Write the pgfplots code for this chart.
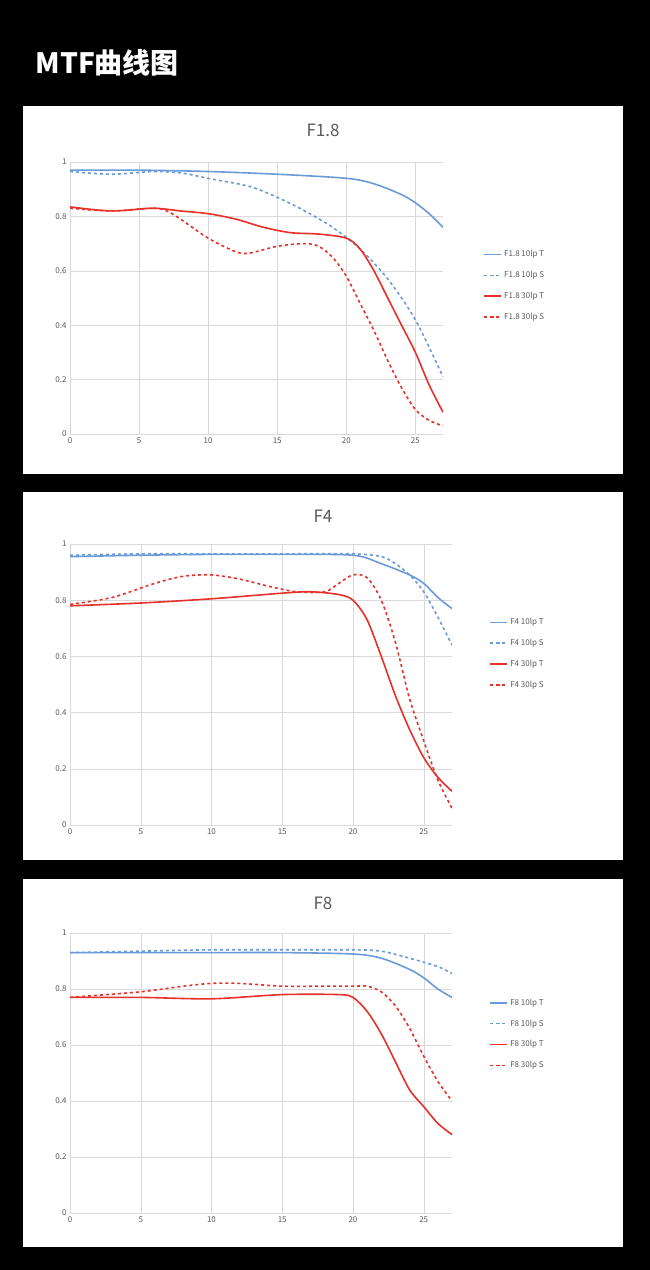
\documentclass[border=0pt]{standalone}
\usepackage{pgfplots}
\pgfplotsset{compat=1.18}
\usepackage{fontspec}
\setmainfont{Noto Sans CJK SC}
\definecolor{mblue}{RGB}{106,155,216}
\definecolor{mred}{RGB}{232,48,42}
\definecolor{tgray}{RGB}{90,90,90}
\pgfplotsset{mtf/.style={
  scale only axis, xmin=0, xmax=27, ymin=0, ymax=1,
  xtick={0,5,...,25}, ytick={0,0.2,...,1},
  yticklabels={0,0.2,0.4,0.6,0.8,1},
  grid=major, grid style={draw=black!15},
  axis line style={draw=none}, tick style={draw=none},
  ticklabel style={font=\fontsize{8}{9}\selectfont, text=tgray},
  /pgf/number format/assume math mode=true,
  legend style={draw=none, fill=none, font=\fontsize{8}{9}\selectfont, text=tgray, row sep=9pt, anchor=north west},
  legend cell align=left,
  legend image post style={sharp plot},
  every axis plot/.append style={smooth, line width=1.6pt},
  anchor=south west}}
\begin{document}
\begin{tikzpicture}
\fill[black] (0pt,0pt) rectangle (650pt,1270pt);
\node[anchor=west, text=white, font=\fontsize{28}{30}\selectfont\bfseries] at (32pt,1207pt) {MTF曲线图};
\fill[white] (23pt,796pt) rectangle (623pt,1164pt);
\fill[white] (23pt,410pt) rectangle (623pt,778pt);
\fill[white] (23pt,23pt) rectangle (623pt,391pt);
\node[text=tgray, font=\fontsize{17}{18}\selectfont] at (323pt,1140pt) {F1.8};
\node[text=tgray, font=\fontsize{17}{18}\selectfont] at (323pt,754pt) {F4};
\node[text=tgray, font=\fontsize{17}{18}\selectfont] at (323pt,367pt) {F8};
% Panel 1
\begin{axis}[mtf, at={(70pt,836pt)}, width=373pt, height=272pt, legend style={at={(1.1,0.69)}}]
\addplot[mblue] coordinates {(0,0.97)(5,0.97)(10,0.965)(15,0.955)(20,0.94)(22,0.92)(24,0.88)(25,0.85)(26,0.81)(27,0.76)};
\addplot[mblue, dashed] coordinates {(0,0.965)(3,0.955)(6,0.965)(8,0.96)(10,0.94)(13,0.91)(15,0.87)(17,0.82)(19,0.76)(21,0.68)(23,0.57)(25,0.42)(27,0.21)};
\addplot[mred] coordinates {(0,0.835)(3,0.82)(6,0.83)(8,0.82)(10,0.81)(12,0.79)(14,0.76)(16,0.74)(18,0.735)(20,0.72)(21,0.68)(22,0.6)(23,0.5)(24,0.4)(25,0.3)(26,0.18)(27,0.08)};
\addplot[mred, dashed] coordinates {(0,0.83)(3,0.82)(6,0.83)(7,0.82)(8,0.79)(10,0.72)(12,0.67)(13,0.665)(15,0.69)(17,0.7)(18,0.69)(19,0.65)(20,0.58)(21,0.48)(22,0.38)(23,0.27)(24,0.17)(25,0.09)(26,0.05)(27,0.03)};
\legend{F1.8 10lp T, F1.8 10lp S, F1.8 30lp T, F1.8 30lp S}
\end{axis}
% Panel 2
\begin{axis}[mtf, at={(70pt,445pt)}, width=382pt, height=281pt, legend style={at={(1.09,0.75)}}]
\addplot[mblue] coordinates {(0,0.955)(5,0.96)(10,0.963)(15,0.963)(20,0.96)(22,0.93)(24,0.89)(25,0.86)(26,0.81)(27,0.77)};
\addplot[mblue, dashed] coordinates {(0,0.96)(5,0.965)(10,0.965)(15,0.965)(20,0.965)(22,0.955)(23,0.93)(24,0.89)(25,0.83)(26,0.74)(27,0.64)};
\addplot[mred] coordinates {(0,0.78)(5,0.79)(10,0.805)(15,0.825)(17,0.83)(19,0.82)(20,0.8)(21,0.73)(22,0.6)(23,0.46)(24,0.34)(25,0.24)(26,0.17)(27,0.12)};
\addplot[mred, dashed] coordinates {(0,0.785)(3,0.81)(6,0.86)(8,0.885)(10,0.89)(12,0.875)(14,0.85)(16,0.83)(18,0.83)(19,0.86)(20,0.89)(21,0.88)(22,0.8)(23,0.65)(24,0.45)(25,0.3)(26,0.16)(27,0.06)};
\legend{F4 10lp T, F4 10lp S, F4 30lp T, F4 30lp S}
\end{axis}
% Panel 3
\begin{axis}[mtf, at={(70pt,57pt)}, width=382pt, height=280pt, legend style={at={(1.09,0.78)}}]
\addplot[mblue] coordinates {(0,0.93)(10,0.93)(15,0.93)(20,0.925)(22,0.91)(24,0.87)(25,0.84)(26,0.8)(27,0.77)};
\addplot[mblue, dashed] coordinates {(0,0.93)(5,0.935)(10,0.94)(15,0.94)(20,0.94)(22,0.935)(24,0.91)(26,0.88)(27,0.855)};
\addplot[mred] coordinates {(0,0.77)(5,0.77)(10,0.765)(15,0.78)(19,0.78)(20,0.77)(21,0.72)(22,0.64)(23,0.54)(24,0.44)(25,0.38)(26,0.32)(27,0.28)};
\addplot[mred, dashed] coordinates {(0,0.77)(5,0.79)(8,0.81)(10,0.82)(12,0.82)(15,0.81)(18,0.81)(20,0.81)(21,0.81)(22,0.79)(23,0.74)(24,0.66)(25,0.56)(26,0.47)(27,0.4)};
\legend{F8 10lp T, F8 10lp S, F8 30lp T, F8 30lp S}
\end{axis}
\end{tikzpicture}
\end{document}
